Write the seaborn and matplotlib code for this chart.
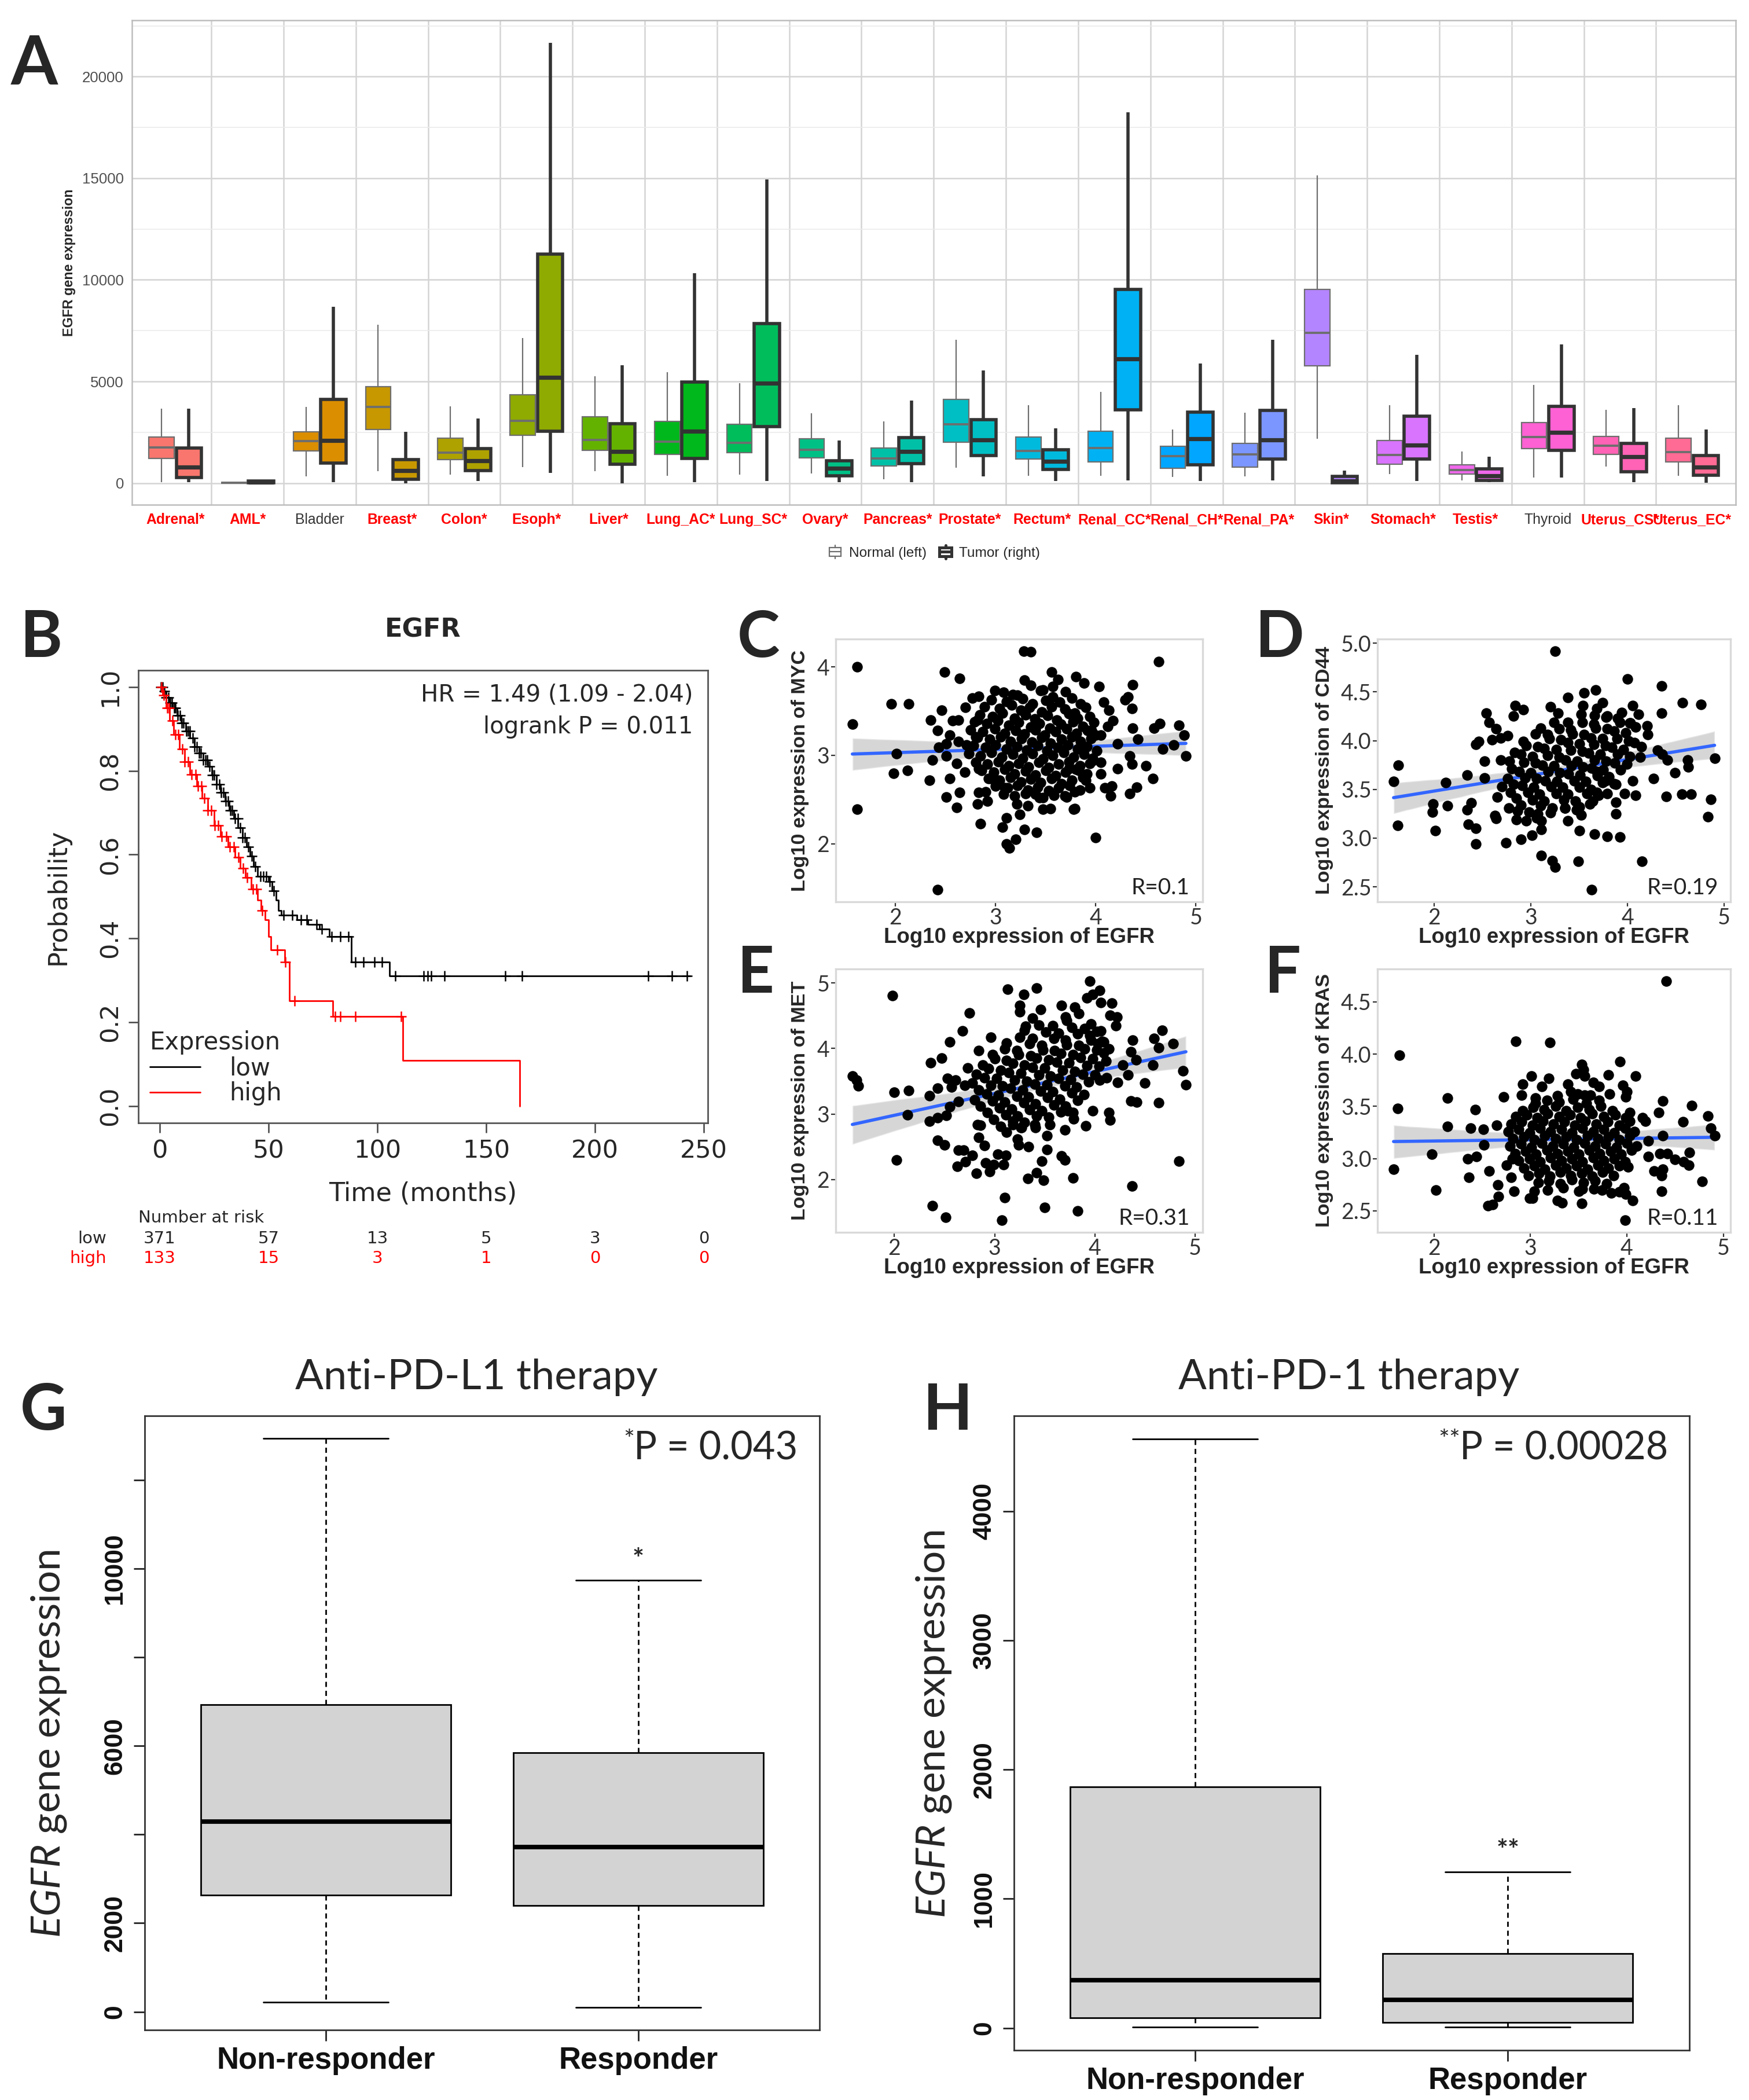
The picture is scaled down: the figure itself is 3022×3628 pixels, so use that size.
import numpy as np
import pandas as pd
import matplotlib
matplotlib.use("Agg")
import matplotlib.pyplot as plt
from matplotlib import font_manager
from matplotlib.colors import to_hex
from matplotlib.legend_handler import HandlerBase
from matplotlib.patches import Rectangle, Patch
from matplotlib.lines import Line2D
from matplotlib.ticker import FormatStrFormatter
import seaborn as sns

# ---------------- data: panel A (box stats) ----------------
tissues = ["Adrenal", "AML", "Bladder", "Breast", "Colon", "Esoph", "Liver", "Lung_AC",
           "Lung_SC", "Ovary", "Pancreas", "Prostate", "Rectum", "Renal_CC", "Renal_CH",
           "Renal_PA", "Skin", "Stomach", "Testis", "Thyroid", "Uterus_CS", "Uterus_EC"]
significant = [True, True, False, True, True, True, True, True, True, True, True, True,
               True, True, True, True, True, True, True, False, True, True]

normal_lo = [50, 0, 320, 587, 409, 800, 587, 356, 409, 462, 178, 747, 356, 356, 302, 320,
             2188, 445, 125, 267, 818, 356]
normal_q1 = [1210, 5, 1583, 2633, 1156, 2348, 1601, 1423, 1494, 1245, 836, 2010, 1174, 1032,
             729, 800, 5782, 925, 445, 1690, 1423, 1050]
normal_med = [1743, 10, 2064, 3736, 1512, 3078, 2135, 2046, 1992, 1654, 1210, 2882, 1583, 1726,
              1334, 1423, 7383, 1388, 640, 2277, 1832, 1530]
normal_q3 = [2277, 20, 2526, 4750, 2206, 4359, 3256, 3042, 2882, 2188, 1726, 4110, 2277, 2544,
             1797, 1957, 9535, 2099, 890, 2989, 2295, 2206]
normal_hi = [3665, 40, 3736, 7792, 3771, 7134, 5248, 5444, 4910, 3434, 3042, 7063, 3843, 4501,
             2633, 3469, 15140, 3825, 1548, 4821, 3611, 3843]

tumor_lo = [50, 0, 50, 0, 89, 498, 0, 50, 89, 36, 50, 320, 107, 142, 107, 142, 0, 89, 36, 267,
            36, 18]
tumor_q1 = [285, 20, 978, 178, 623, 2544, 925, 1210, 2793, 356, 961, 1352, 676, 3611, 907, 1174,
            10, 1192, 142, 1601, 551, 391]
tumor_med = [800, 50, 2100, 623, 1103, 5212, 1565, 2562, 4910, 729, 1548, 2117, 1067, 6102, 2188,
             2135, 89, 1868, 356, 2508, 1299, 800]
tumor_q3 = [1726, 90, 4127, 1156, 1690, 11279, 2935, 4981, 7845, 1103, 2242, 3113, 1654, 9535,
            3505, 3576, 320, 3291, 712, 3789, 1957, 1352]
tumor_hi = [3665, 150, 8682, 2526, 3167, 21668, 5800, 10336, 14944, 2099, 4056, 5533, 2704,
            18235, 5889, 7045, 623, 6316, 1299, 6814, 3700, 2633]

# ---------------- data: panel B (Kaplan-Meier steps) ----------------
low_times = [0, 1.5, 3, 4.5, 6, 8, 10, 12, 14, 16, 18, 20, 22, 24, 26, 28, 30, 32, 34, 36, 38,
             40, 41.5, 43, 45, 50, 51.5, 53.5, 54.5, 56, 63, 68, 73.5, 78, 88, 105.7]
low_surv = [1.0, 0.99, 0.975, 0.962, 0.95, 0.932, 0.915, 0.895, 0.878, 0.858, 0.842, 0.826,
            0.81, 0.79, 0.768, 0.748, 0.728, 0.706, 0.686, 0.664, 0.64, 0.618, 0.596, 0.572,
            0.548, 0.535, 0.513, 0.492, 0.466, 0.455, 0.445, 0.434, 0.423, 0.405, 0.343, 0.311]
low_end = 243.6
low_cens = [0.6, 1.4, 2.2, 3.1, 3.9, 4.8, 5.5, 6.6, 7.3, 8.2, 9.4, 10.1, 11.0, 12.2, 13.1, 13.9,
            15.2, 16.0, 17.1, 18.0, 18.9, 20.1, 21.0, 21.9, 23.0, 24.2, 25.1, 26.0, 27.3, 28.1,
            29.2, 30.4, 31.3, 32.5, 33.4, 34.6, 35.8, 36.9, 38.1, 39.2, 40.6, 42.3, 44.0, 46.2,
            47.6, 49.0, 50.6, 52.4, 57.0, 61.0, 65.0, 67.5, 72.0, 74.4, 79.0, 83.0, 86.6, 90.0,
            93.5, 98.7, 102.2, 108.3, 121.3, 123.1, 124.8, 130.9, 158.7, 166.5, 224.4, 235.2,
            242.2]
high_times = [0, 1.5, 3, 4.5, 6.5, 9, 11.5, 14, 17, 19.5, 22, 25, 28, 31.5, 34.5, 37, 39.5, 42,
              45, 46.6, 48.4, 50.1, 51, 57.5, 59.6, 79.6, 111.8, 165.3]
high_surv = [1.0, 0.98, 0.95, 0.92, 0.886, 0.852, 0.822, 0.792, 0.763, 0.734, 0.705, 0.67,
             0.644, 0.618, 0.593, 0.568, 0.546, 0.517, 0.492, 0.466, 0.445, 0.405, 0.372, 0.343,
             0.251, 0.213, 0.108, 0.0]
high_cens = [0.9, 2.0, 3.4, 4.4, 5.9, 7.1, 8.6, 10.3, 11.6, 13.2, 14.7, 16.4, 17.6, 19.2, 20.5,
             22.1, 23.7, 25.4, 27.0, 28.6, 30.5, 32.2, 34.1, 36.3, 38.4, 40.2, 42.8, 44.5, 47.0,
             54.0, 57.8, 61.9, 80.5, 83.1, 90.0, 110.9]
risk_times = [0, 50, 100, 150, 200, 250]
risk_low = [371, 57, 13, 5, 3, 0]
risk_high = [133, 15, 3, 1, 0, 0]

# ---------------- data: panels C-F (log10 EGFR vs gene) --------
myc_pts = [
    (1.62, 4.00), (1.57, 3.35), (1.62, 2.39), (2.01, 3.02), (1.96, 3.58), (2.13, 3.58), (1.98, 2.80),
    (2.12, 2.83), (2.42, 1.48), (2.49, 3.94), (2.64, 3.87), (2.46, 3.51), (2.35, 3.40), (2.42, 3.28),
    (2.37, 2.95), (2.34, 2.72), (2.51, 2.99), (2.54, 2.74), (2.51, 2.53), (2.61, 2.41), (2.64, 2.58),
    (2.69, 2.81), (2.61, 2.91), (2.51, 3.13), (2.43, 3.09), (2.54, 3.23), (2.57, 3.39), (2.63, 3.40),
    (2.70, 3.54), (2.77, 3.65), (2.83, 3.67), (2.82, 3.40), (2.80, 3.21), (2.63, 3.16), (2.71, 3.12),
    (2.85, 2.23), (2.82, 2.45), (2.83, 2.58), (2.99, 3.73), (3.17, 3.69), (3.28, 4.18), (3.35, 4.17),
    (3.29, 3.85), (3.35, 3.79), (3.47, 3.74), (3.56, 3.94), (3.62, 3.86), (3.57, 3.78), (3.80, 3.89),
    (3.88, 3.82), (4.03, 3.78), (4.37, 3.80), (4.63, 4.06), (4.36, 3.53), (4.29, 3.63), (4.32, 3.66),
    (4.08, 3.60), (4.13, 3.51), (4.37, 3.31), (4.42, 3.18), (4.17, 3.39), (4.12, 3.33), (4.22, 3.13),
    (4.05, 3.23), (3.96, 3.28), (4.58, 3.31), (4.64, 3.36), (4.83, 3.34), (4.88, 3.23), (4.78, 3.12),
    (4.67, 3.07), (4.90, 2.99), (4.50, 2.88), (4.57, 2.74), (4.34, 2.99), (4.36, 2.90), (4.22, 2.85),
    (4.05, 2.79), (4.05, 2.92), (4.16, 2.65), (4.09, 2.63), (4.15, 2.54), (4.34, 2.57), (4.41, 2.64),
    (4.00, 2.07), (3.78, 2.39), (3.79, 2.40), (3.55, 2.40), (3.41, 2.13), (3.29, 2.16), (3.20, 2.05),
    (3.11, 2.00), (3.14, 1.95), (3.07, 2.19), (3.11, 2.29), (3.21, 2.45), (3.24, 2.33), (3.32, 2.43),
    (3.40, 2.56), (3.47, 2.52), (3.47, 2.39), (2.92, 2.48), (2.90, 2.59), (3.09, 2.63), (2.95, 2.74),
    (2.83, 2.85), (3.69, 2.54), (3.79, 2.59), (3.94, 2.63), (3.90, 2.72), (3.83, 2.83), (3.73, 2.85),
    (3.97, 2.94),
    (3.08, 3.71), (3.22, 3.68), (3.45, 3.73), (3.57, 3.66), (3.70, 3.72),
    (2.96, 3.63), (3.11, 3.61), (3.27, 3.64), (3.37, 3.58), (3.50, 3.62), (3.64, 3.60), (3.76, 3.65),
    (3.85, 3.58), (2.89, 3.55), (3.04, 3.53), (3.16, 3.57), (3.25, 3.51), (3.34, 3.54), (3.46, 3.49),
    (3.56, 3.55), (3.69, 3.52), (3.79, 3.48), (3.90, 3.54), (2.84, 3.46), (2.97, 3.44), (3.07, 3.48),
    (3.19, 3.42), (3.30, 3.46), (3.39, 3.41), (3.52, 3.45), (3.61, 3.40), (3.73, 3.47), (3.82, 3.42),
    (3.94, 3.44), (2.79, 3.38), (2.91, 3.36), (3.02, 3.39), (3.13, 3.34), (3.23, 3.37), (3.35, 3.32),
    (3.44, 3.36), (3.54, 3.31), (3.65, 3.35), (3.77, 3.38), (3.87, 3.33), (3.98, 3.37), (2.75, 3.29),
    (2.87, 3.27), (2.99, 3.30), (3.09, 3.25), (3.20, 3.28), (3.29, 3.24), (3.40, 3.29), (3.49, 3.23),
    (3.60, 3.27), (3.71, 3.30), (3.81, 3.25), (3.92, 3.28), (4.00, 3.23), (2.82, 3.20), (2.94, 3.18),
    (3.05, 3.21), (3.15, 3.16), (3.26, 3.19), (3.36, 3.15), (3.46, 3.20), (3.55, 3.14), (3.66, 3.18),
    (3.76, 3.21), (3.85, 3.16), (3.95, 3.19), (2.78, 3.11), (2.90, 3.09), (3.00, 3.12), (3.11, 3.07),
    (3.21, 3.10), (3.31, 3.06), (3.42, 3.11), (3.51, 3.05), (3.62, 3.09), (3.72, 3.12), (3.82, 3.07),
    (3.91, 3.10), (4.01, 3.05), (2.73, 3.02), (2.85, 2.99), (2.96, 3.03), (3.06, 2.98), (3.17, 3.01),
    (3.27, 2.97), (3.37, 3.02), (3.47, 2.96), (3.57, 3.00), (3.68, 3.03), (3.78, 2.98), (3.88, 3.01),
    (3.97, 2.97), (2.80, 2.92), (2.92, 2.90), (3.03, 2.93), (3.13, 2.88), (3.23, 2.91), (3.33, 2.87),
    (3.43, 2.92), (3.53, 2.86), (3.63, 2.90), (3.73, 2.93), (3.84, 2.88), (3.94, 2.91), (2.86, 2.83),
    (2.98, 2.81), (3.09, 2.84), (3.19, 2.79), (3.30, 2.82), (3.40, 2.78), (3.50, 2.83), (3.60, 2.77),
    (3.70, 2.81), (3.80, 2.84), (3.91, 2.79), (2.93, 2.74), (3.04, 2.72), (3.15, 2.75), (3.25, 2.70),
    (3.35, 2.73), (3.45, 2.69), (3.56, 2.74), (3.66, 2.68), (3.76, 2.72), (3.87, 2.75), (3.00, 2.65),
    (3.12, 2.63), (3.22, 2.66), (3.32, 2.61), (3.42, 2.64), (3.53, 2.60), (3.63, 2.63), (3.74, 2.66),
    (3.84, 2.61), (3.08, 2.56), (3.19, 2.54), (3.30, 2.57), (3.44, 2.52), (3.58, 2.55), (3.71, 2.53),
]

cd44_pts = [
    (3.25, 4.92), (4.00, 4.63), (4.35, 4.56), (4.57, 4.39), (4.76, 4.37), (4.35, 4.28), (4.05, 4.36),
    (4.11, 4.27), (4.20, 4.15), (4.21, 4.06), (4.90, 3.82), (4.62, 3.80), (4.63, 3.73), (4.49, 3.67),
    (4.27, 3.61), (4.31, 3.90), (4.36, 3.86), (4.41, 3.80), (4.05, 3.59), (4.08, 3.44), (3.97, 3.46),
    (4.40, 3.43), (4.56, 3.45), (4.66, 3.45), (4.86, 3.40), (4.83, 3.22), (4.15, 2.76), (3.92, 3.01),
    (3.79, 3.02), (3.66, 3.04), (3.63, 2.47), (3.49, 2.76), (3.25, 2.70), (3.22, 2.77), (3.11, 2.82),
    (3.50, 3.08), (3.38, 3.18), (3.11, 3.09), (3.01, 3.03), (2.90, 2.99), (2.74, 2.95), (2.43, 2.94),
    (2.43, 3.10), (2.35, 3.14), (2.01, 3.08), (1.62, 3.13), (1.58, 3.58), (1.63, 3.75), (2.12, 3.57),
    (1.99, 3.35), (1.98, 3.27), (2.14, 3.33), (2.34, 3.29), (2.38, 3.36), (2.34, 3.65), (2.52, 3.62),
    (2.52, 3.79), (2.65, 3.42), (2.63, 3.23), (2.64, 3.20), (2.85, 3.19), (2.95, 3.18), (3.11, 3.18),
    (2.43, 3.96), (2.46, 3.99), (2.54, 4.28), (2.57, 4.19), (2.64, 4.12), (2.60, 4.01), (2.69, 4.03),
    (2.76, 4.05), (2.84, 4.36), (2.82, 4.25), (2.92, 4.32), (3.20, 4.35), (3.28, 4.28), (3.38, 4.44),
    (3.55, 4.49), (3.67, 4.52), (3.54, 4.36), (3.74, 4.39), (3.68, 4.33), (3.79, 4.25), (3.94, 4.29),
    (4.02, 4.18), (4.14, 3.94), (4.13, 3.83), (3.88, 3.55), (3.88, 3.37), (3.88, 3.25), (3.77, 3.59),
    (3.68, 3.68), (3.68, 3.47), (3.79, 3.46), (3.47, 3.29), (3.52, 3.24), (3.61, 3.35), (3.35, 3.31),
    (3.07, 3.25), (2.86, 3.28), (2.77, 3.31), (2.70, 3.53), (2.69, 3.80),
    (3.10, 4.13), (3.24, 4.19), (3.38, 4.19), (3.52, 4.27), (3.66, 4.26),
    (2.92, 3.99), (3.05, 4.07), (3.17, 4.06), (3.29, 4.12), (3.41, 4.11), (3.53, 4.19), (3.65, 4.17),
    (3.78, 4.24), (3.90, 4.23), (2.83, 3.88), (2.95, 3.95), (3.07, 3.94), (3.19, 4.02), (3.31, 4.01),
    (3.43, 4.07), (3.55, 4.06), (3.67, 4.13), (3.79, 4.12), (3.92, 4.19), (4.03, 4.18), (2.78, 3.79),
    (2.90, 3.86), (3.02, 3.84), (3.14, 3.92), (3.26, 3.91), (3.38, 3.98), (3.50, 3.97), (3.62, 4.03),
    (3.74, 4.02), (3.86, 4.10), (3.98, 4.08), (4.08, 4.14), (2.80, 3.71), (2.93, 3.78), (3.05, 3.77),
    (3.17, 3.85), (3.29, 3.83), (3.41, 3.90), (3.53, 3.89), (3.65, 3.96), (3.77, 3.95), (3.89, 4.02),
    (4.01, 4.00), (2.76, 3.61), (2.88, 3.68), (3.00, 3.67), (3.12, 3.75), (3.24, 3.74), (3.36, 3.80),
    (3.48, 3.79), (3.60, 3.87), (3.72, 3.86), (3.84, 3.93), (3.96, 3.91), (4.07, 3.98), (2.82, 3.55),
    (2.94, 3.62), (3.06, 3.61), (3.18, 3.68), (3.30, 3.67), (3.42, 3.74), (3.54, 3.73), (3.66, 3.80),
    (3.78, 3.79), (3.90, 3.86), (4.02, 3.84), (2.79, 3.47), (2.91, 3.54), (3.03, 3.52), (3.15, 3.59),
    (3.27, 3.58), (3.39, 3.66), (3.51, 3.65), (3.63, 3.72), (3.75, 3.70), (3.87, 3.77), (3.99, 3.76),
    (2.85, 3.41), (2.97, 3.47), (3.09, 3.45), (3.21, 3.53), (3.33, 3.52), (3.45, 3.59), (3.57, 3.58),
    (3.69, 3.64), (3.81, 3.63), (3.93, 3.70), (2.90, 3.34), (3.02, 3.39), (3.14, 3.38), (3.26, 3.46),
    (3.38, 3.45), (3.50, 3.52), (3.62, 3.50), (3.74, 3.57), (3.86, 3.56), (2.98, 3.27), (3.10, 3.33),
    (3.22, 3.31), (3.34, 3.39), (3.46, 3.38), (3.58, 3.46), (3.70, 3.44), (3.06, 3.21), (3.20, 3.26),
    (3.35, 3.31), (3.50, 3.32), (3.64, 3.38),
]

met_pts = [
    (1.98, 4.81), (3.95, 5.03), (4.05, 4.89), (3.98, 4.82), (3.92, 4.77), (4.06, 4.70), (4.17, 4.69),
    (4.15, 4.51), (4.22, 4.48), (4.21, 4.35), (3.42, 4.92), (3.13, 4.90), (3.29, 4.82), (3.25, 4.66),
    (3.25, 4.56), (3.46, 4.59), (3.67, 4.66), (3.80, 4.63), (3.84, 4.53), (3.71, 4.48), (3.38, 4.46),
    (3.31, 4.34), (2.75, 4.54), (2.68, 4.27), (2.96, 4.17), (2.55, 4.10), (2.36, 3.78), (2.47, 3.85),
    (1.58, 3.58), (1.62, 3.52), (1.64, 3.43), (2.00, 3.33), (2.14, 3.36), (2.35, 3.28), (2.43, 3.39),
    (2.53, 3.54), (2.57, 3.41), (2.61, 3.52), (2.70, 3.44), (2.73, 3.70), (2.84, 3.97), (2.55, 3.11),
    (2.13, 2.99), (2.35, 2.89), (2.43, 2.94), (2.52, 2.98), (2.64, 3.19), (2.02, 2.30), (2.43, 2.60),
    (2.50, 2.53), (2.64, 2.45), (2.69, 2.45), (2.63, 2.20), (2.71, 2.27), (2.78, 2.37), (2.82, 2.10),
    (2.91, 2.26), (2.95, 2.12), (2.99, 2.23), (3.09, 2.23), (3.03, 2.39), (3.11, 2.37), (2.90, 2.52),
    (2.84, 2.64), (3.10, 1.73), (3.07, 1.38), (2.51, 1.43), (2.38, 1.60), (3.50, 1.58), (3.83, 1.52),
    (3.33, 2.02), (3.42, 2.11), (3.49, 1.99), (3.47, 2.28), (3.52, 2.46), (3.52, 2.67), (3.67, 2.36),
    (3.70, 2.30), (3.78, 2.03), (4.37, 1.90), (4.84, 2.28), (3.34, 2.50), (3.24, 2.53), (3.23, 2.62),
    (3.41, 2.79), (3.27, 2.79), (3.18, 2.84), (3.70, 2.76), (3.91, 2.82), (3.98, 3.05), (4.14, 3.02),
    (4.15, 2.91), (3.79, 2.93), (3.73, 3.05), (4.36, 3.20), (4.42, 3.18), (4.64, 3.17), (4.50, 3.47),
    (4.23, 3.48), (4.33, 3.60), (4.12, 3.55), (4.05, 3.52), (4.28, 3.75), (4.41, 3.83), (4.36, 3.95),
    (4.38, 4.13), (4.58, 3.75), (4.64, 4.01), (4.59, 4.15), (4.67, 4.28), (4.78, 4.07), (4.88, 3.66),
    (4.91, 3.45), (4.11, 3.81), (4.14, 3.99), (4.09, 4.10), (4.03, 4.07), (3.96, 4.37), (4.02, 4.26),
    (2.83, 2.84), (2.86, 2.83),
    (3.30, 4.28), (3.44, 4.36), (3.58, 4.35), (3.72, 4.43),
    (3.12, 4.08), (3.25, 4.17), (3.38, 4.15), (3.51, 4.25), (3.64, 4.23), (3.77, 4.32), (3.90, 4.30),
    (2.98, 3.91), (3.10, 3.99), (3.22, 3.97), (3.35, 4.07), (3.47, 4.05), (3.59, 4.15), (3.71, 4.13),
    (3.83, 4.22), (3.95, 4.20), (4.06, 4.27), (2.88, 3.75), (3.00, 3.84), (3.12, 3.82), (3.24, 3.91),
    (3.36, 3.89), (3.48, 3.98), (3.60, 3.97), (3.72, 4.06), (3.84, 4.05), (3.96, 4.13), (4.07, 4.11),
    (2.82, 3.61), (2.94, 3.69), (3.06, 3.67), (3.18, 3.77), (3.30, 3.75), (3.42, 3.85), (3.54, 3.83),
    (3.66, 3.92), (3.78, 3.91), (3.90, 3.99), (4.02, 3.98), (2.78, 3.47), (2.90, 3.55), (3.02, 3.54),
    (3.14, 3.63), (3.26, 3.62), (3.38, 3.71), (3.50, 3.70), (3.62, 3.79), (3.74, 3.78), (3.86, 3.86),
    (3.98, 3.84), (4.09, 3.93), (2.84, 3.37), (2.96, 3.44), (3.08, 3.43), (3.20, 3.52), (3.32, 3.50),
    (3.44, 3.60), (3.56, 3.58), (3.68, 3.67), (3.80, 3.65), (3.92, 3.74), (4.04, 3.73), (2.80, 3.22),
    (2.92, 3.31), (3.04, 3.29), (3.16, 3.39), (3.28, 3.37), (3.40, 3.46), (3.52, 3.45), (3.64, 3.54),
    (3.76, 3.53), (3.88, 3.61), (4.00, 3.60), (2.86, 3.12), (2.98, 3.20), (3.10, 3.18), (3.22, 3.27),
    (3.34, 3.26), (3.46, 3.35), (3.58, 3.34), (3.70, 3.43), (3.82, 3.41), (3.94, 3.49), (2.93, 3.02),
    (3.05, 3.09), (3.17, 3.08), (3.29, 3.17), (3.41, 3.16), (3.53, 3.25), (3.65, 3.23), (3.77, 3.32),
    (3.89, 3.30), (2.99, 2.92), (3.11, 2.99), (3.23, 2.97), (3.35, 3.07), (3.47, 3.05), (3.59, 3.14),
    (3.71, 3.12), (3.83, 3.21), (3.06, 2.81), (3.18, 2.89), (3.30, 2.87), (3.42, 2.97), (3.54, 2.95),
    (3.66, 3.03), (3.78, 3.02), (3.12, 2.72), (3.26, 2.79), (3.40, 2.84), (3.55, 2.84),
]

kras_pts = [
    (4.41, 4.70), (1.64, 3.99), (1.62, 3.48), (1.58, 2.90), (1.98, 3.04), (2.02, 2.70), (2.14, 3.58),
    (2.14, 3.31), (2.43, 3.47), (2.38, 3.29), (2.35, 3.00), (2.36, 2.82), (2.44, 3.02), (2.52, 3.13),
    (2.51, 3.28), (2.57, 2.88), (2.56, 2.55), (2.61, 2.56), (2.66, 2.75), (2.67, 2.64), (2.72, 3.59),
    (2.65, 3.32), (2.83, 2.69), (2.85, 4.12), (3.20, 4.11), (3.01, 3.79), (3.19, 3.77), (2.92, 3.71),
    (3.12, 3.69), (2.91, 3.61), (3.05, 3.58), (3.53, 3.90), (3.55, 3.85), (3.47, 3.81), (3.56, 3.79),
    (3.39, 3.71), (3.65, 3.73), (3.71, 3.69), (3.49, 3.62), (3.62, 3.61), (3.93, 3.93), (3.81, 3.80),
    (4.09, 3.79), (3.96, 3.70), (4.00, 3.64), (3.82, 3.62), (3.99, 3.59), (4.37, 3.55), (4.33, 3.44),
    (4.67, 3.51), (4.84, 3.41), (4.58, 3.35), (4.87, 3.29), (4.91, 3.22), (4.37, 3.22), (4.22, 3.17),
    (4.16, 3.39), (4.19, 3.36), (4.03, 3.44), (4.65, 3.06), (4.50, 2.99), (4.59, 2.97), (4.64, 2.94),
    (4.34, 3.05), (4.42, 3.05), (4.22, 3.02), (4.28, 2.88), (4.37, 2.90), (4.36, 2.84), (4.78, 2.78),
    (4.36, 2.69), (4.06, 2.60), (3.98, 2.41), (3.97, 2.72), (3.99, 2.66), (3.92, 2.68), (3.84, 2.67),
    (4.01, 2.92), (3.53, 2.57), (3.33, 2.58), (3.28, 2.60), (3.54, 2.71), (3.74, 2.70), (3.02, 2.62),
    (3.04, 2.69), (2.99, 2.62), (2.80, 2.82), (2.81, 3.00), (2.75, 2.94),
    (3.28, 3.60), (3.42, 3.64), (3.56, 3.61),
    (3.05, 3.53), (3.17, 3.56), (3.30, 3.54), (3.44, 3.57), (3.58, 3.53), (3.71, 3.56),
    (2.92, 3.46), (3.03, 3.49), (3.14, 3.47), (3.26, 3.50), (3.37, 3.46), (3.49, 3.49), (3.61, 3.47),
    (3.73, 3.50), (3.85, 3.46), (2.85, 3.40), (2.96, 3.42), (3.07, 3.39), (3.18, 3.43), (3.30, 3.40),
    (3.41, 3.42), (3.52, 3.39), (3.64, 3.43), (3.76, 3.40), (3.88, 3.42), (3.99, 3.39), (2.80, 3.33),
    (2.91, 3.35), (3.02, 3.32), (3.13, 3.36), (3.24, 3.33), (3.35, 3.35), (3.46, 3.32), (3.57, 3.36),
    (3.68, 3.33), (3.80, 3.35), (3.92, 3.32), (4.03, 3.36), (2.77, 3.26), (2.88, 3.28), (2.99, 3.25),
    (3.10, 3.29), (3.21, 3.26), (3.32, 3.28), (3.43, 3.25), (3.54, 3.29), (3.65, 3.26), (3.76, 3.28),
    (3.87, 3.25), (3.98, 3.29), (4.08, 3.26), (2.82, 3.19), (2.93, 3.21), (3.04, 3.18), (3.15, 3.22),
    (3.26, 3.19), (3.37, 3.21), (3.48, 3.18), (3.59, 3.22), (3.70, 3.19), (3.81, 3.21), (3.92, 3.18),
    (4.03, 3.22), (2.79, 3.12), (2.90, 3.14), (3.01, 3.11), (3.12, 3.15), (3.23, 3.12), (3.34, 3.14),
    (3.45, 3.11), (3.56, 3.15), (3.67, 3.12), (3.78, 3.14), (3.89, 3.11), (4.00, 3.15), (4.10, 3.12),
    (2.84, 3.05), (2.95, 3.07), (3.06, 3.04), (3.17, 3.08), (3.28, 3.05), (3.39, 3.07), (3.50, 3.04),
    (3.61, 3.08), (3.72, 3.05), (3.83, 3.07), (3.94, 3.04), (4.05, 3.08), (2.88, 2.98), (2.99, 3.00),
    (3.10, 2.97), (3.21, 3.01), (3.32, 2.98), (3.43, 3.00), (3.54, 2.97), (3.65, 3.01), (3.76, 2.98),
    (3.87, 3.00), (3.98, 2.97), (2.93, 2.91), (3.04, 2.93), (3.15, 2.90), (3.26, 2.94), (3.37, 2.91),
    (3.48, 2.93), (3.59, 2.90), (3.70, 2.94), (3.81, 2.91), (3.92, 2.93), (2.98, 2.84), (3.09, 2.86),
    (3.20, 2.83), (3.31, 2.87), (3.42, 2.84), (3.53, 2.86), (3.64, 2.83), (3.75, 2.87), (3.86, 2.84),
    (3.08, 2.77), (3.19, 2.79), (3.31, 2.76), (3.43, 2.80), (3.55, 2.77), (3.67, 2.79), (3.79, 2.76),
    (3.18, 2.70), (3.34, 2.72), (3.50, 2.69), (3.66, 2.71),
]

# ---------------- data: panels G, H (box stats: lo, q1, median, q3, hi) ----------------
groups = ["Non-responder", "Responder"]
pdl1_nonresp = [210, 2633, 4292, 6925, 12942]
pdl1_resp = [100, 2400, 3717, 5852, 9746]
pd1_nonresp = [8, 80, 372, 1865, 4558]
pd1_resp = [8, 42, 217, 577, 1208]

# ---------------- fonts / style ----------------
sns.set_style("white")
_names = {f.name for f in font_manager.fontManager.ttflist}


def pick_font(*names):
    for n in names:
        if n in _names:
            return n
    return "DejaVu Sans"


ARIAL = pick_font("Liberation Sans", "Arimo")
NARROW = pick_font("Liberation Sans Narrow", "Liberation Sans")
CAL = pick_font("Lato", "Open Sans", "Noto Sans")
plt.rcParams["font.family"] = ["DejaVu Sans"]
plt.rcParams["mathtext.fontset"] = "custom"
plt.rcParams["mathtext.rm"] = CAL
plt.rcParams["mathtext.it"] = CAL + ":italic"
plt.rcParams["mathtext.bf"] = CAL + ":bold"


def hcl_hex(h, c=100.0, l=65.0):
    # polar LUV -> sRGB, as used by ggplot2's hue palette
    hr = np.deg2rad(h)
    u, v = c * np.cos(hr), c * np.sin(hr)
    Xn, Yn, Zn = 95.047, 100.0, 108.883
    Y = Yn * ((l + 16) / 116) ** 3 if l > 8 else Yn * l / 903.3
    d = Xn + 15 * Yn + 3 * Zn
    up = u / (13 * l) + 4 * Xn / d
    vp = v / (13 * l) + 9 * Yn / d
    X = Y * 9 * up / (4 * vp)
    Z = Y * (12 - 3 * up - 20 * vp) / (4 * vp)
    X, Y, Z = X / 100, Y / 100, Z / 100
    rgb = [3.2404542 * X - 1.5371385 * Y - 0.4985314 * Z,
           -0.9692660 * X + 1.8760108 * Y + 0.0415560 * Z,
           0.0556434 * X - 0.2040259 * Y + 1.0572252 * Z]
    out = []
    for t in rgb:
        t = min(max(t, 0.0), 1.0)
        out.append(12.92 * t if t <= 0.0031308 else 1.055 * t ** (1 / 2.4) - 0.055)
    return to_hex(out)


hues = np.linspace(15, 375, len(tissues) + 1)[:-1]
tissue_pal = {t: hcl_hex(h) for t, h in zip(tissues, hues)}


def set_tick_font(ax, family, size, weight="normal", color="black"):
    for lab in ax.get_xticklabels() + ax.get_yticklabels():
        lab.set_fontfamily(family)
        lab.set_fontsize(size)
        lab.set_fontweight(weight)
        lab.set_color(color)


fig = plt.figure(figsize=(3022 / 200, 3628 / 200), dpi=200)
fig.patch.set_facecolor("white")

# ================= Panel A =================
axA = fig.add_axes([0.0754, 0.7596, 0.9169, 0.2308])
rows = []
normal = [normal_lo, normal_q1, normal_med, normal_q3, normal_hi]
tumor = [tumor_lo, tumor_q1, tumor_med, tumor_q3, tumor_hi]
for i, t in enumerate(tissues):
    for grp, off, stats in (("Normal", -0.19, normal), ("Tumor", 0.19, tumor)):
        for s in stats:
            rows.append({"tissue": t, "group": grp, "pos": i + off, "value": s[i]})
dfA = pd.DataFrame(rows)

box_style = {"Normal": ("#6E6E6E", 0.8, 1.4), "Tumor": ("#333333", 2.0, 2.6)}
for grp, (ec, lw, mlw) in box_style.items():
    sub = dfA[dfA["group"] == grp]
    sns.boxplot(data=sub, x="pos", y="value", hue="tissue", palette=tissue_pal,
                native_scale=True, dodge=False, width=0.35, whis=(0, 100),
                showfliers=False, showcaps=False, saturation=1, linecolor=ec,
                linewidth=lw, medianprops={"linewidth": mlw}, legend=False, ax=axA)

axA.set_xlim(-0.6, len(tissues) - 0.4)
axA.set_ylim(-1070, 22776)
axA.set_xticks(np.arange(len(tissues)))
axA.set_xticklabels([t + "*" if s else t for t, s in zip(tissues, significant)])
axA.set_xticks(np.arange(len(tissues) - 1) + 0.5, minor=True)
axA.set_yticks([0, 5000, 10000, 15000, 20000])
axA.set_yticks([2500, 7500, 12500, 17500, 22500], minor=True)
axA.set_axisbelow(True)
axA.grid(which="major", axis="y", color="#D4D4D4", lw=0.9)
axA.grid(which="minor", axis="y", color="#EBEBEB", lw=0.6)
axA.grid(which="minor", axis="x", color="#D4D4D4", lw=0.9)
axA.tick_params(which="minor", length=0)
axA.tick_params(which="major", length=3, width=0.7, color="#555555", pad=2)
for sp in axA.spines.values():
    sp.set_color("#BDBDBD")
    sp.set_linewidth(0.9)
axA.set_xlabel("")
axA.set_ylabel("EGFR gene expression", fontsize=8.4, fontweight="bold", family=ARIAL)
axA.yaxis.label.set_va("center")
axA.yaxis.set_label_coords(-0.039, 0.5)
set_tick_font(axA, ARIAL, 9.3, color="#4D4D4D")
for lab, s in zip(axA.get_xticklabels(), significant):
    lab.set_fontsize(8.9)
    lab.set_color("red" if s else "#333333")
    lab.set_fontweight("bold" if s else "normal")


class BoxGlyph(HandlerBase):
    def __init__(self, edge, lw):
        super().__init__()
        self.edge, self.lw = edge, lw

    def create_artists(self, legend, orig_handle, xdescent, ydescent, width, height,
                       fontsize, trans):
        x0, y0 = -xdescent, -ydescent
        bw, bh = width * 0.75, height * 0.62
        bx, by = x0 + (width - bw) / 2, y0 + (height - bh) / 2
        cx = x0 + width / 2
        kw = dict(color=self.edge, lw=self.lw, transform=trans)
        return [Rectangle((bx, by), bw, bh, facecolor="white", edgecolor=self.edge,
                          lw=self.lw, transform=trans),
                Line2D([bx, bx + bw], [by + bh / 2] * 2, **kw),
                Line2D([cx, cx], [by + bh, y0 + height], **kw),
                Line2D([cx, cx], [y0, by], **kw)]


h_norm, h_tum = Patch(label="Normal (left)"), Patch(label="Tumor (right)")
axA.legend(handles=[h_norm, h_tum], loc="center", bbox_to_anchor=(0.5, -0.098), ncol=2,
           frameon=False, handlelength=1.1, handleheight=1.1, handletextpad=0.4,
           columnspacing=0.8, prop={"family": ARIAL, "size": 8.8},
           handler_map={h_norm: BoxGlyph("#6E6E6E", 0.8), h_tum: BoxGlyph("#333333", 1.8)})

# ================= Panel B =================
axB = fig.add_axes([0.0792, 0.4654, 0.3254, 0.2154])
for times, surv, end, cens, col in ((low_times, low_surv, low_end, low_cens, "black"),
                                    (high_times, high_surv, None, high_cens, "red")):
    xs, ys = list(times), list(surv)
    if end is not None:
        xs, ys = xs + [end], ys + [surv[-1]]
    sns.lineplot(x=np.array(xs), y=np.array(ys), drawstyle="steps-post", color=col, lw=1.0,
                 estimator=None, sort=False, ax=axB)
    idx = np.searchsorted(np.array(times), np.array(cens), side="right") - 1
    axB.plot(cens, np.array(surv)[idx], ls="none", marker="+", ms=6.5, mew=0.9, color=col)

axB.set_xlim(-9.7, 251.7)
axB.set_ylim(-0.04, 1.04)
axB.set_xticks(risk_times)
axB.set_yticks([0, 0.2, 0.4, 0.6, 0.8, 1.0])
axB.set_yticklabels(["0.0", "0.2", "0.4", "0.6", "0.8", "1.0"])
axB.tick_params(axis="both", direction="out", length=6, width=0.9, color="#444444",
                labelsize=15.5, pad=4, left=True, bottom=True)
axB.tick_params(axis="y", labelrotation=90)
for lab in axB.get_yticklabels():
    lab.set_va("center")
for sp in axB.spines.values():
    sp.set_color("#555555")
    sp.set_linewidth(1.0)
axB.set_xlabel("Time (months)", fontsize=16)
axB.set_ylabel("Probability", fontsize=16)
axB.xaxis.label.set_va("center")
axB.yaxis.label.set_va("center")
axB.xaxis.set_label_coords(0.5, -0.157)
axB.yaxis.set_label_coords(-0.142, 0.5)
axB.text(245, 0.982, "HR = 1.49 (1.09 - 2.04)", ha="right", va="center", fontsize=14.5)
axB.text(245, 0.905, "logrank P = 0.011", ha="right", va="center", fontsize=14.5)
legB = axB.legend(handles=[Line2D([], [], color="black", lw=1.0),
                           Line2D([], [], color="red", lw=1.0)],
                  labels=["low", "high"], title="Expression", loc="lower left",
                  bbox_to_anchor=(-0.01, 0.0), frameon=False, fontsize=15, title_fontsize=15,
                  handlelength=2.1, handletextpad=1.2, labelspacing=0.05, borderaxespad=0.3)
legB._legend_box.align = "left"
trB = axB.get_xaxis_transform()
axB.text(-9.7, -0.2105, "Number at risk", transform=trB, ha="left", va="center", fontsize=10.5)
axB.text(-24.5, -0.257, "low", transform=trB, ha="right", va="center", fontsize=10.5)
axB.text(-24.5, -0.300, "high", transform=trB, ha="right", va="center", fontsize=10.5,
         color="red")
for t, nl, nh in zip(risk_times, risk_low, risk_high):
    axB.text(t, -0.257, str(nl), transform=trB, ha="center", va="center", fontsize=10.5)
    axB.text(t, -0.300, str(nh), transform=trB, ha="center", va="center", fontsize=10.5,
             color="red")
fig.text(0.2418, 0.700, "EGFR", ha="center", va="center", fontsize=16, fontweight="bold")

# ================= Panels C-F =================
axC = fig.add_axes([0.4778, 0.5706, 0.2098, 0.1251])
axD = fig.add_axes([0.7876, 0.5706, 0.2019, 0.1251])
axE = fig.add_axes([0.4778, 0.4132, 0.2098, 0.1254])
axF = fig.add_axes([0.7876, 0.4132, 0.2019, 0.1254])
scatter_panels = [
    (axC, myc_pts, "MYC", "R=0.1", [2, 3, 4], "%d", -0.097),
    (axD, cd44_pts, "CD44", "R=0.19", [2.5, 3.0, 3.5, 4.0, 4.5, 5.0], "%.1f", -0.150),
    (axE, met_pts, "MET", "R=0.31", [2, 3, 4, 5], "%d", -0.097),
    (axF, kras_pts, "KRAS", "R=0.11", [2.5, 3.0, 3.5, 4.0, 4.5], "%.1f", -0.150),
]
for ax, pts, gene, rtxt, yt, fmt, ylx in scatter_panels:
    df = pd.DataFrame(pts, columns=["egfr", gene])
    sns.regplot(data=df, x="egfr", y=gene, scatter=False, ci=95, seed=3,
                line_kws={"color": "#3366FF", "lw": 2.0}, ax=ax)
    band = ax.collections[-1]
    band.set_facecolor("#999999")
    band.set_alpha(0.4)
    sns.scatterplot(data=df, x="egfr", y=gene, color="black", s=44, linewidth=0, zorder=3,
                    ax=ax)
    xr = df["egfr"].max() - df["egfr"].min()
    yr = df[gene].max() - df[gene].min()
    ax.set_xlim(df["egfr"].min() - 0.05 * xr, df["egfr"].max() + 0.05 * xr)
    ax.set_ylim(df[gene].min() - 0.05 * yr, df[gene].max() + 0.05 * yr)
    ax.set_xticks([2, 3, 4, 5])
    ax.set_yticks(yt)
    ax.yaxis.set_major_formatter(FormatStrFormatter(fmt))
    ax.tick_params(axis="both", length=3, width=0.8, color="#333333", pad=0.8,
                   left=True, bottom=True)
    set_tick_font(ax, CAL, 13.5, color="#333333")
    for sp in ax.spines.values():
        sp.set_color("#D9D9D9")
        sp.set_linewidth(1.2)
    ax.set_xlabel("Log10 expression of EGFR", fontsize=13.2, fontweight="bold",
                  family=NARROW)
    ax.set_ylabel("Log10 expression of " + gene, fontsize=12.3, fontweight="bold",
                  family=NARROW)
    ax.xaxis.label.set_va("center")
    ax.yaxis.label.set_va("center")
    ax.xaxis.set_label_coords(0.5, -0.135)
    ax.yaxis.set_label_coords(ylx, 0.5)
    ax.text(0.965, 0.052, rtxt, transform=ax.transAxes, ha="right", va="center",
            fontsize=14, family=CAL, color="#222222")

# ================= Panels G, H =================
axG = fig.add_axes([0.0828, 0.0333, 0.3857, 0.2926])
axH = fig.add_axes([0.5797, 0.0236, 0.3861, 0.3023])
p_texts = []
for ax, nonresp, resp, yt, ylabs, star, ptxt, px, py in (
        (axG, pdl1_nonresp, pdl1_resp, [0, 2000, 4000, 6000, 8000, 10000, 12000],
         ["0", "2000", "", "6000", "", "10000", ""], "*", "P = 0.043", 0.968, 0.946),
        (axH, pd1_nonresp, pd1_resp, [0, 1000, 2000, 3000, 4000],
         ["0", "1000", "2000", "3000", "4000"], "**", "P = 0.00028", 0.969, 0.948)):
    df = pd.DataFrame({"group": [groups[0]] * 5 + [groups[1]] * 5, "value": nonresp + resp})
    sns.boxplot(data=df, x="group", y="value", order=groups, color="#D3D3D3", saturation=1,
                width=0.8, whis=(0, 100), showfliers=False, linecolor="black", linewidth=1.0,
                medianprops={"linewidth": 2.8},
                whiskerprops={"linestyle": (0, (3.2, 2.4))}, ax=ax)
    lo, hi = min(nonresp + resp), max(nonresp + resp)
    ax.set_ylim(lo - 0.04 * (hi - lo), hi + 0.04 * (hi - lo))
    ax.set_xlim(-0.58, 1.58)
    ax.set_yticks(yt)
    ax.set_yticklabels(ylabs)
    ax.tick_params(axis="both", direction="out", length=7, width=1.0, color="#222222",
                   left=True, bottom=True)
    ax.tick_params(axis="y", labelrotation=90, pad=4)
    ax.tick_params(axis="x", pad=3)
    set_tick_font(ax, ARIAL, 16, weight="bold", color="#111111")
    for lab in ax.get_yticklabels():
        lab.set_va("center")
    for lab in ax.get_xticklabels():
        lab.set_fontsize(19)
    for sp in ax.spines.values():
        sp.set_color("#333333")
        sp.set_linewidth(1.0)
    ax.set_xlabel("")
    ax.set_ylabel("")
    ax.text(1, resp[-1] + 0.035 * (hi - lo), star, ha="center", va="center", fontsize=17,
            fontweight="bold", family=CAL)
    tp = ax.text(px, py, ptxt, transform=ax.transAxes, ha="right", va="center", fontsize=24,
                 family=CAL)
    p_texts.append((tp, star))

fig.text(0.0278, 0.1695, r"$\mathit{EGFR}$ gene expression", rotation=90, ha="center",
         va="center", fontsize=25, family=CAL)
fig.text(0.5338, 0.179, r"$\mathit{EGFR}$ gene expression", rotation=90, ha="center",
         va="center", fontsize=25, family=CAL)
fig.text(0.2725, 0.344, "Anti-PD-L1 therapy", ha="center", va="center", fontsize=26,
         family=CAL)
fig.text(0.7714, 0.344, "Anti-PD-1 therapy", ha="center", va="center", fontsize=26,
         family=CAL)

# superscript stars in front of the P values
fig.canvas.draw()
W, H = fig.bbox.width, fig.bbox.height
for tp, star in p_texts:
    bb = tp.get_window_extent()
    fig.text((bb.x0 + 1) / W, (bb.y1 + 4) / H, star, ha="right", va="top", fontsize=16,
             family=CAL)

# ================= panel letters =================
for letter, x, y, size in (("A", 0.0063, 0.9598, 42), ("B", 0.0116, 0.6872, 40),
                           ("C", 0.4216, 0.6872, 40), ("D", 0.7177, 0.6872, 40),
                           ("E", 0.4216, 0.5273, 40), ("F", 0.7230, 0.5273, 40),
                           ("G", 0.0116, 0.3192, 40), ("H", 0.5278, 0.3192, 40)):
    fig.text(x, y, letter, ha="left", va="baseline", fontsize=size, fontweight="bold",
             family=CAL)

fig.savefig("out.png", dpi=200, facecolor="white")
